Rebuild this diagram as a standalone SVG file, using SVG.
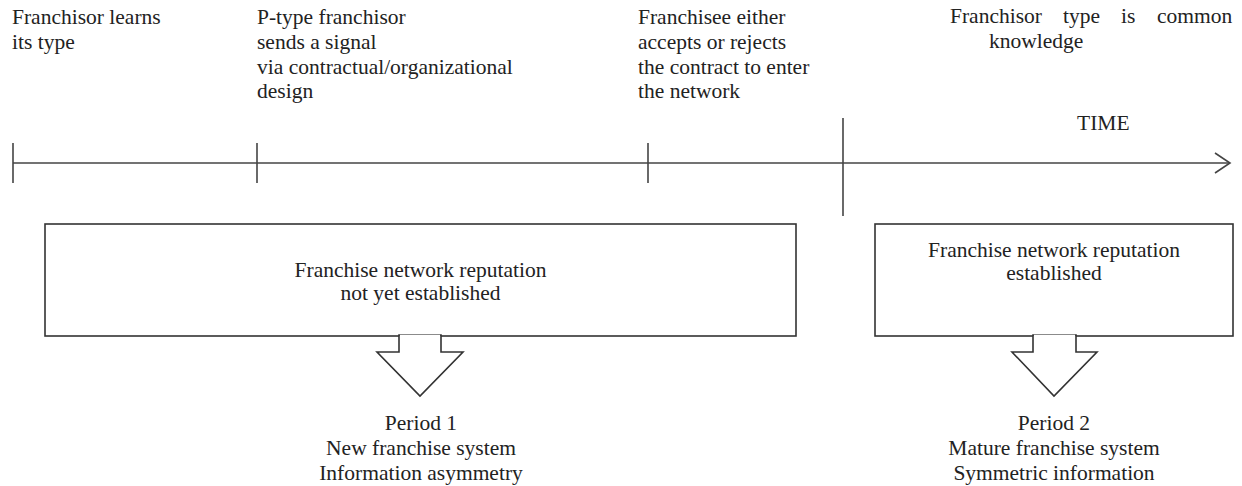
<svg xmlns="http://www.w3.org/2000/svg" width="1242" height="486" viewBox="0 0 1242 486">
<style>
.t{font-family:"Liberation Serif","Times New Roman",serif;font-size:21.5px;fill:#222}
.c{text-anchor:middle}
.ln{stroke:#444;stroke-width:1.6;fill:none}
.bx{stroke:#333;stroke-width:1.6;fill:#fff}
</style>
<rect width="1242" height="486" fill="#fff"/>
<g id="connectors">
<line class="ln" x1="13" y1="163" x2="1230" y2="163"/>
<polyline class="ln" points="1215,153 1230,163 1215,173"/>
<line class="ln" x1="13" y1="143" x2="13" y2="183"/>
<line class="ln" x1="257" y1="143" x2="257" y2="183"/>
<line class="ln" x1="648" y1="143" x2="648" y2="183"/>
<line class="ln" x1="843" y1="118" x2="843" y2="216"/>
</g>
<g id="label-learns">
<text class="t" x="12" y="24">Franchisor learns</text>
<text class="t" x="12" y="49">its type</text>
</g>
<g id="label-signal">
<text class="t" x="257" y="24">P-type franchisor</text>
<text class="t" x="257" y="49">sends a signal</text>
<text class="t" x="257" y="74">via contractual/organizational</text>
<text class="t" x="257" y="98">design</text>
</g>
<g id="label-accept">
<text class="t" x="638" y="24">Franchisee either</text>
<text class="t" x="638" y="49">accepts or rejects</text>
<text class="t" x="638" y="74">the contract to enter</text>
<text class="t" x="638" y="98">the network</text>
</g>
<g id="label-common">
<text class="t" x="950" y="23">Franchisor</text>
<text class="t" x="1063" y="23">type</text>
<text class="t" x="1121" y="23">is</text>
<text class="t" x="1157" y="23">common</text>
<text class="t" x="989" y="48">knowledge</text>
</g>
<g id="label-time">
<text class="t" x="1077" y="130">TIME</text>
</g>
<g id="period1">
<rect class="bx" x="45" y="224" width="751" height="112"/>
<polygon class="bx" points="399,335 399,352 377,352 420,396 463,352 441,352 441,335"/>
<line x1="400" y1="336" x2="440" y2="336" stroke="#fff" stroke-width="2.5"/>
<text class="t c" x="420.5" y="277">Franchise network reputation</text>
<text class="t c" x="420.5" y="300">not yet established</text>
<text class="t c" x="421" y="430">Period 1</text>
<text class="t c" x="421" y="455">New franchise system</text>
<text class="t c" x="421" y="480">Information asymmetry</text>
</g>
<g id="period2">
<rect class="bx" x="875" y="224" width="358" height="112"/>
<polygon class="bx" points="1033,335 1033,352 1012,352 1054,396 1097,352 1076,352 1076,335"/>
<line x1="1034" y1="336" x2="1075" y2="336" stroke="#fff" stroke-width="2.5"/>
<text class="t c" x="1054" y="257">Franchise network reputation</text>
<text class="t c" x="1054" y="280">established</text>
<text class="t c" x="1054" y="430">Period 2</text>
<text class="t c" x="1054" y="455">Mature franchise system</text>
<text class="t c" x="1054" y="480">Symmetric information</text>
</g>
</svg>
